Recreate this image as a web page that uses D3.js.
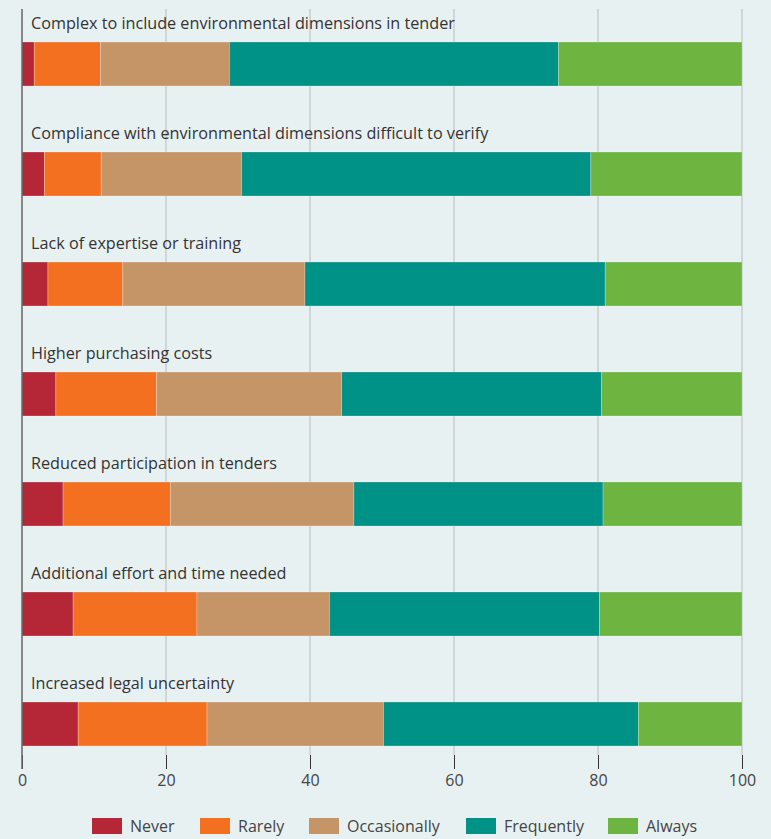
<!DOCTYPE html>
<html lang="en">
<head>
  <meta charset="UTF-8">
  <title>Barriers chart</title>
  <script src="https://cdn.jsdelivr.net/npm/d3@7"></script>
  <style>
    body{
      margin:0;
      background:#e8f1f2;
    }
    svg text{
      font-family:"Open Sans","Noto Sans",sans-serif;
      fill:#333;
    }
    .xAxis .domain{ display:none; }
    .xAxis text{ font-size:16px; fill:#444; }
    .legend text{ font-size:16px; fill:#444; }
  </style>
</head>
<body>
  <svg id="chart"></svg>
  <script>
    const categories = [
      "Complex to include environmental dimensions in tender",
      "Compliance with environmental dimensions difficult to verify",
      "Lack of expertise or training",
      "Higher purchasing costs",
      "Reduced participation in tenders",
      "Additional effort and time needed",
      "Increased legal uncertainty"
    ];
    const seriesNames = ["Never", "Rarely", "Occasionally", "Frequently", "Always"];
    const colors = ["#b52736", "#f37021", "#c69567", "#009187", "#6db540"];

    // share per answer, one entry per category
    const never        = [1.7, 3.1, 3.6, 4.7, 5.7, 7.1, 7.8];
    const rarely       = [9.2, 7.9, 10.4, 14.0, 14.9, 17.2, 17.9];
    const occasionally = [17.9, 19.5, 25.3, 25.7, 25.5, 18.4, 24.5];
    const frequently   = [45.7, 48.5, 41.7, 36.1, 34.6, 37.5, 35.4];
    const always       = [25.5, 21.0, 19.0, 19.5, 19.3, 19.8, 14.4];
    const xTicks = [0, 20, 40, 60, 80, 100];

    const W = 771, H = 839;
    const svg = d3.select("#chart").attr("width", W).attr("height", H);

    const rows = categories.map((c, i) => ({
      cat: c,
      Never: never[i], Rarely: rarely[i], Occasionally: occasionally[i],
      Frequently: frequently[i], Always: always[i]
    }));

    const x = d3.scaleLinear().domain([0, 100]).range([22, 742]);
    const y = d3.scaleBand()
      .domain(categories)
      .range([42, 746])
      .paddingInner(0.6)
      .paddingOuter(0);
    const color = d3.scaleOrdinal().domain(seriesNames).range(colors);

    // grid lines
    svg.append("g").attr("class", "grid")
      .selectAll("line")
      .data(xTicks.slice(1))
      .enter().append("line")
      .attr("x1", d => x(d)).attr("x2", d => x(d))
      .attr("y1", 9).attr("y2", 755)
      .attr("stroke", "#c5cbcd").attr("stroke-width", 1.4);

    // x axis
    const xAxis = svg.append("g")
      .attr("class", "xAxis")
      .attr("transform", "translate(0,755)")
      .call(d3.axisBottom(x).tickValues(xTicks).tickSize(14).tickPadding(6));
    xAxis.selectAll(".tick line").attr("stroke", "#333").attr("stroke-width", 1);

    // stacked bars
    const stack = d3.stack().keys(seriesNames)(rows);
    svg.append("g").attr("class", "bars")
      .selectAll("g")
      .data(stack)
      .enter().append("g")
      .attr("fill", d => color(d.key))
      .selectAll("rect")
      .data(d => d)
      .enter().append("rect")
      .attr("x", d => x(d[0]))
      .attr("y", d => y(d.data.cat))
      .attr("width", d => x(d[1]) - x(d[0]))
      .attr("height", y.bandwidth())
      .attr("stroke", "rgba(255,255,255,0.35)")
      .attr("stroke-width", 0.7);

    // left axis line
    svg.append("line")
      .attr("x1", x(0)).attr("x2", x(0))
      .attr("y1", 9).attr("y2", 769)
      .attr("stroke", "#666").attr("stroke-width", 1.5);

    // category labels
    svg.append("g").attr("class", "labels")
      .selectAll("text")
      .data(categories)
      .enter().append("text")
      .attr("x", 31)
      .attr("y", d => y(d) - 13)
      .attr("font-size", 16.2)
      .text(d => d);

    // legend
    const legendX = [92, 200, 309, 466, 608];
    const legend = svg.append("g").attr("class", "legend")
      .selectAll("g")
      .data(seriesNames)
      .enter().append("g")
      .attr("transform", (d, i) => "translate(" + legendX[i] + ",818)");
    legend.append("rect")
      .attr("width", 30).attr("height", 16)
      .attr("fill", d => color(d));
    legend.append("text")
      .attr("x", 38).attr("y", 14)
      .text(d => d);
  </script>
</body>
</html>
